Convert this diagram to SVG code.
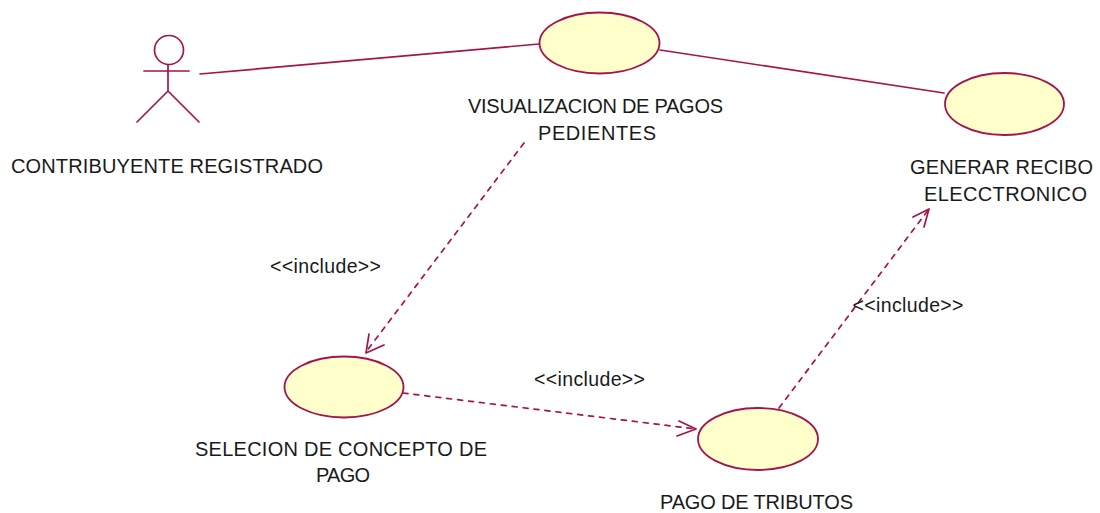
<svg xmlns="http://www.w3.org/2000/svg" width="1100" height="513" viewBox="0 0 1100 513">
<style>
.s{fill:none;stroke:#a5144a;stroke-width:1.7;stroke-linecap:round}
.u{fill:#ffffcb;stroke:#a5144a;stroke-width:1.8}
.d{stroke-dasharray:5 6}
text{font-family:"Liberation Sans",Arial,sans-serif;font-size:20px;fill:#1a1a1a;text-anchor:middle}
.i{font-size:19.500px}
</style>
<rect width="1100" height="513" fill="#fff"/>
<g id="connectors">
<path class="s" d="M200 74L539 44"/>
<path class="s" d="M660 50L944 93"/>
<path class="s d" d="M524 143L366 352"/>
<path class="s" d="M366 353L369 334M366 353L384 345"/>
<path class="s d" d="M403 393L696 429"/>
<path class="s" d="M696 429L679 421M696 429L677 436"/>
<path class="s d" d="M779 408L929 209"/>
<path class="s" d="M929 209L913 217M929 209L924 227"/>
<text class="i" x="325.500" y="273" textLength="111">&lt;&lt;include&gt;&gt;</text>
<text class="i" x="589.500" y="386" textLength="111">&lt;&lt;include&gt;&gt;</text>
<text class="i" x="908" y="312" textLength="111">&lt;&lt;include&gt;&gt;</text>
</g>
<g id="actor">
<circle class="s" cx="169" cy="50" r="14.500"/>
<path class="s" d="M144 71H189M168 65V91M168 91L137 122M168 91L199 122"/>
<text x="167" y="173" textLength="312">CONTRIBUYENTE REGISTRADO</text>
</g>
<g id="visualizacion">
<ellipse class="u" cx="599.500" cy="43" rx="60" ry="30.500"/>
<text x="595.500" y="113" textLength="255">VISUALIZACION DE PAGOS</text>
<text x="597" y="140" textLength="118">PEDIENTES</text>
</g>
<g id="generar">
<ellipse class="u" cx="1004.500" cy="104" rx="59.500" ry="31"/>
<text x="1001.500" y="174" textLength="183">GENERAR RECIBO</text>
<text x="1005.500" y="201" textLength="163">ELECCTRONICO</text>
</g>
<g id="selecion">
<ellipse class="u" cx="344" cy="387" rx="59.500" ry="30.500"/>
<text x="341" y="456" textLength="292">SELECION DE CONCEPTO DE</text>
<text x="343" y="482" textLength="54">PAGO</text>
</g>
<g id="pago">
<ellipse class="u" cx="758" cy="439" rx="60" ry="31"/>
<text x="756.500" y="509" textLength="193">PAGO DE TRIBUTOS</text>
</g>
</svg>
